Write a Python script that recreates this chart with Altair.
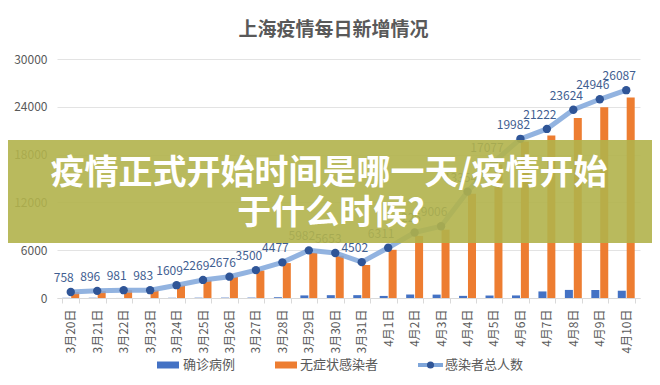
import altair as alt
import pandas as pd

dates = ["3月20日", "3月21日", "3月22日", "3月23日", "3月24日", "3月25日", "3月26日",
         "3月27日", "3月28日", "3月29日", "3月30日", "3月31日", "4月1日", "4月2日",
         "4月3日", "4月4日", "4月5日", "4月6日", "4月7日", "4月8日", "4月9日", "4月10日"]
confirmed = [24, 31, 4, 4, 29, 38, 45, 50, 96, 326, 355, 358, 260, 438, 425, 268,
             311, 322, 824, 1015, 1006, 914]
asymptomatic = [734, 865, 977, 979, 1580, 2231, 2631, 3450, 4381, 5656, 5298, 4144,
                6051, 7788, 8581, 13086, 16766, 19660, 20398, 22609, 23937, 25173]
total = [758, 896, 981, 983, 1609, 2269, 2676, 3500, 4477, 5982, 5653, 4502, 6311,
         8226, 9006, 13354, 17077, 19982, 21222, 23624, 24946, 26087]
series_names = ["确诊病例", "无症状感染者"]
line_name = "感染者总人数"
y_ticks = [0, 6000, 12000, 18000, 24000, 30000]
title_text = "上海疫情每日新增情况"
banner_line1 = "疫情正式开始时间是哪一天/疫情开始"
banner_line2 = "于什么时候?"

FONT = "Noto Sans CJK SC"
GRAY = "#595959"
BLUE = "#4472C4"
ORANGE = "#ED7D31"
LINE = "#7FA6DA"
DOT = "#2F5597"
W, H = 583, 239

bars_df = pd.DataFrame({
    "date": dates * 2,
    "series": [series_names[0]] * len(dates) + [series_names[1]] * len(dates),
    "value": confirmed + asymptomatic,
})
line_df = pd.DataFrame({"date": dates, "total": total, "series": line_name})
one = pd.DataFrame({"k": [0]})

x_enc = alt.X("date:N", sort=dates,
              scale=alt.Scale(paddingInner=0.36, paddingOuter=0.2),
              axis=alt.Axis(title=None, labelAngle=-90, labelFontSize=12,
                            labelColor=GRAY, labelFont=FONT, labelPadding=6,
                            tickBand="extent", tickColor="#D9D9D9", tickSize=5,
                            domainColor="#D9D9D9", grid=False))
y_scale = alt.Scale(domain=[0, 30000])

bars = alt.Chart(bars_df).mark_bar().encode(
    x=x_enc,
    xOffset=alt.XOffset("series:N", sort=series_names,
                        scale=alt.Scale(paddingInner=0.1)),
    y=alt.Y("value:Q", scale=y_scale,
            axis=alt.Axis(title=None, values=y_ticks, format="d", domain=False,
                          ticks=False, gridColor="#E3E3E3", labelColor=GRAY,
                          labelFontSize=12, labelFont=FONT, labelPadding=10)),
    color=alt.Color("series:N", sort=series_names,
                    scale=alt.Scale(domain=series_names, range=[BLUE, ORANGE]),
                    legend=None),
)

line = alt.Chart(line_df).mark_line(strokeWidth=5, opacity=0.85, color=LINE).encode(
    x=alt.X("date:N", sort=dates),
    y=alt.Y("total:Q", scale=y_scale),
)
points = alt.Chart(line_df).mark_circle(size=70, color=DOT, opacity=1).encode(
    x=alt.X("date:N", sort=dates),
    y=alt.Y("total:Q", scale=y_scale),
)
labels = alt.Chart(line_df).mark_text(dx=-7, dy=-14, fontSize=12, font=FONT,
                                      color="#3F5E91").encode(
    x=alt.X("date:N", sort=dates),
    y=alt.Y("total:Q", scale=y_scale),
    text=alt.Text("total:Q", format="d"),
)

# manual legend (bottom)
leg_y = 306
leg1 = alt.Chart(one).mark_rect(color=BLUE).encode(
    x=alt.value(100), x2=alt.value(122), y=alt.value(leg_y - 3.5), y2=alt.value(leg_y + 3.5))
leg1t = alt.Chart(one).mark_text(align="left", baseline="middle", fontSize=13, font=FONT,
                                 color=GRAY, text=series_names[0]).encode(
    x=alt.value(126), y=alt.value(leg_y))
leg2 = alt.Chart(one).mark_rect(color=ORANGE).encode(
    x=alt.value(218), x2=alt.value(240), y=alt.value(leg_y - 3.5), y2=alt.value(leg_y + 3.5))
leg2t = alt.Chart(one).mark_text(align="left", baseline="middle", fontSize=13, font=FONT,
                                 color=GRAY, text=series_names[1]).encode(
    x=alt.value(243), y=alt.value(leg_y))
leg3 = alt.Chart(one).mark_rule(color=LINE, strokeWidth=4).encode(
    x=alt.value(361), x2=alt.value(386), y=alt.value(leg_y))
leg3p = alt.Chart(one).mark_circle(color=DOT, size=50, opacity=1).encode(
    x=alt.value(373.5), y=alt.value(leg_y))
leg3t = alt.Chart(one).mark_text(align="left", baseline="middle", fontSize=13, font=FONT,
                                 color=GRAY, text=line_name).encode(
    x=alt.value(388), y=alt.value(leg_y))

banner = alt.Chart(one).mark_rect(color="#B1B34B", opacity=0.9).encode(
    x=alt.value(-57), x2=alt.value(603), y=alt.value(81), y2=alt.value(184),
)
banner_t1 = alt.Chart(one).mark_text(
    fontSize=34, font=FONT, fontWeight="bold", color="white",
    align="center", baseline="middle", text=banner_line1).encode(
    x=alt.value(272), y=alt.value(115))
banner_t2 = alt.Chart(one).mark_text(
    fontSize=34, font=FONT, fontWeight="bold", color="white",
    align="center", baseline="middle", text=banner_line2).encode(
    x=alt.value(274), y=alt.value(155))

chart = alt.layer(bars, line, points, labels, leg1, leg1t, leg2, leg2t, leg3, leg3p,
                  leg3t, banner, banner_t1, banner_t2).properties(
    width=W, height=H,
    title=alt.Title(title_text, fontSize=19, font=FONT, fontWeight="bold",
                    color=GRAY, anchor="middle", dx=-15, offset=13),
    autosize=alt.AutoSizeParams(type="none"),
    padding={"left": 49, "top": 51, "right": 12, "bottom": 79},
).configure_view(stroke=None)

chart.save("out.html", embed_options={"renderer": "svg", "actions": False})
